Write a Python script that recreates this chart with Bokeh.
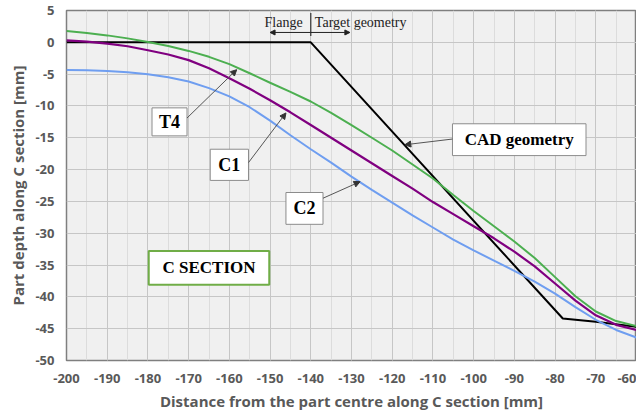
from bokeh.plotting import figure
from bokeh.models import Range1d, FixedTicker, Arrow, NormalHead
from bokeh.core.properties import value
from bokeh.embed import file_html
from bokeh.resources import INLINE

# ---- data ----
x_pts = [-200, -195, -190, -185, -180, -175, -170, -165, -160, -155, -150, -145, -140, -135,
         -130, -125, -120, -115, -110, -105, -100, -95, -90, -85, -80, -75, -70, -65, -60]
t4 = [1.76, 1.45, 1.09, 0.62, 0.05, -0.57, -1.35, -2.28, -3.42, -4.86, -6.35, -7.8, -9.3, -11.1,
      -13.0, -15.0, -17.0, -19.2, -21.4, -24.0, -26.5, -28.9, -31.3, -33.9, -36.9, -39.9, -42.3, -43.8, -44.6]
c1 = [0.31, 0.1, -0.21, -0.62, -1.24, -1.91, -2.8, -4.09, -5.65, -7.3, -9.1, -11.0, -13.0, -15.0,
      -17.0, -19.0, -21.0, -23.0, -25.1, -27.0, -28.9, -30.8, -32.9, -35.2, -37.9, -40.6, -42.9, -44.4, -45.2]
c2 = [-4.35, -4.4, -4.5, -4.71, -5.02, -5.49, -6.16, -7.2, -8.49, -10.2, -12.3, -14.6, -16.8, -18.9,
      -21.1, -23.2, -25.2, -27.2, -29.1, -31.0, -32.7, -34.3, -35.9, -37.6, -39.5, -41.6, -43.6, -45.2, -46.4]
cad_x = [-200, -140, -78.1, -70, -60]
cad_y = [0, 0, -43.4, -43.9, -44.7]

x_ticks = list(range(-200, -59, 10))
x_minor = list(range(-200, -59, 5))
y_ticks = list(range(-50, 6, 5))

AX_FONT = "Open Sans"
SERIF = "Liberation Serif"
GRAY = "#595959"

p = figure(width=636, height=413, x_range=Range1d(-200, -60), y_range=Range1d(-50, 5),
           output_backend="svg", toolbar_location=None,
           min_border_left=66, min_border_right=0, min_border_top=10, min_border_bottom=49)

p.background_fill_color = "#f0f0f0"
p.border_fill_color = "white"
p.outline_line_color = "#7f7f7f"
p.outline_line_width = 1.5

p.xaxis.ticker = FixedTicker(ticks=x_ticks, minor_ticks=x_minor)
p.yaxis.ticker = FixedTicker(ticks=y_ticks)
p.xaxis.major_label_overrides = {t: str(t) for t in x_ticks}
p.yaxis.major_label_overrides = {t: str(t) for t in y_ticks}
p.xgrid.grid_line_color = "#c6c6c6"
p.ygrid.grid_line_color = "#c6c6c6"
p.xgrid.minor_grid_line_color = "#dcdcdc"

for ax in (p.xaxis, p.yaxis):
    ax.axis_line_color = None
    ax.major_tick_line_color = None
    ax.minor_tick_line_color = None
    ax.major_tick_out = 0
    ax.minor_tick_out = 0
    ax.major_label_text_font = AX_FONT
    ax.major_label_text_font_size = "13px"
    ax.major_label_text_color = GRAY
    ax.major_label_text_font_style = "bold"
    ax.axis_label_text_font = AX_FONT
    ax.axis_label_text_font_size = "15px"
    ax.axis_label_text_font_style = "bold"
    ax.axis_label_text_color = GRAY

p.xaxis.axis_label = "Distance from the part centre along C section [mm]"
p.yaxis.axis_label = "Part depth along C section [mm]"
p.xaxis.major_label_standoff = 13
p.yaxis.major_label_standoff = 12
p.xaxis.axis_label_standoff = 5
p.yaxis.axis_label_standoff = 4

# ---- curves ----
p.line(cad_x, cad_y, line_color="black", line_width=2)
p.line(x_pts, c2, line_color="#6f9ef0", line_width=2)
p.line(x_pts, c1, line_color="#800080", line_width=2.2)
p.line(x_pts, t4, line_color="#4caf50", line_width=2)

# ---- annotation boxes ----
boxes = [
    # label, left, right, top, bottom, text size, border colour, border width
    ("T4", -179.0, -170.4, -10.3, -14.7, "18px", "#8c8c8c", 1),
    ("C1", -164.7, -155.3, -16.8, -21.7, "18px", "#8c8c8c", 1),
    ("C2", -146.1, -137.0, -23.6, -28.6, "18px", "#8c8c8c", 1),
    ("CAD geometry", -105.2, -72.4, -12.8, -17.8, "17px", "#8c8c8c", 1),
    ("C SECTION", -179.8, -150.2, -32.8, -38.1, "17px", "#70ad47", 2),
]
for lab, l, r, t, b, fs, bc, bw in boxes:
    p.quad(left=[l], right=[r], top=[t], bottom=[b], fill_color="white",
           line_color=bc, line_width=bw)
    p.text(x=[(l + r) / 2], y=[(t + b) / 2], text=[lab], text_font=value(SERIF),
           text_font_size=fs, text_font_style="bold", text_align="center",
           text_baseline="middle", text_color="black")

arrows = [
    (-170.4, -11.9, -158.2, -4.3),
    (-155.3, -18.9, -146.1, -11.1),
    (-137.0, -24.5, -127.9, -21.9),
    (-105.2, -15.2, -116.9, -16.1),
]
for xs, ys, xe, ye in arrows:
    p.add_layout(Arrow(end=NormalHead(size=6, fill_color="#333333", line_color="#333333"),
                       x_start=xs, y_start=ys, x_end=xe, y_end=ye,
                       line_color="#555555", line_width=1))

# ---- flange / target geometry marker ----
p.segment(x0=[-140], y0=[4.6], x1=[-140], y1=[1.0], line_color="#333333", line_width=1.2)
p.add_layout(Arrow(end=NormalHead(size=5, fill_color="#222", line_color="#222"),
                   x_start=-140, y_start=1.55, x_end=-150, y_end=1.55,
                   line_color="#222", line_width=1))
p.add_layout(Arrow(end=NormalHead(size=5, fill_color="#222", line_color="#222"),
                   x_start=-140, y_start=1.55, x_end=-130.4, y_end=1.55,
                   line_color="#222", line_width=1))
p.text(x=[-142.0], y=[3.1], text=["Flange"], text_font=value(SERIF), text_font_size="14px",
       text_align="right", text_baseline="middle", text_color="#222222")
p.text(x=[-139.0], y=[3.1], text=["Target geometry"], text_font=value(SERIF), text_font_size="14px",
       text_align="left", text_baseline="middle", text_color="#222222")

open("out.html", "w").write(file_html(p, INLINE))
